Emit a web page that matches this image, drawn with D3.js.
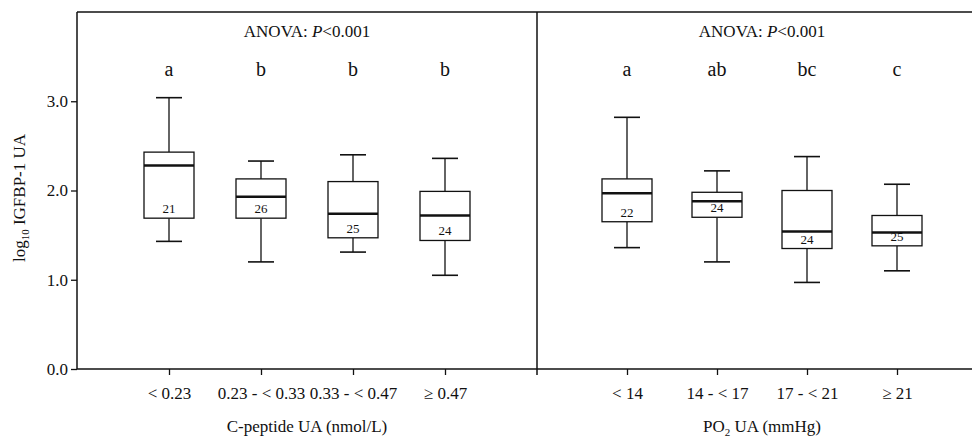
<!DOCTYPE html>
<html><head><meta charset="utf-8">
<script src="https://cdn.jsdelivr.net/npm/d3@7"></script>
<style>body{margin:0;background:#fff}svg{display:block;font-family:"Liberation Serif","Times New Roman",serif}</style>
</head><body><svg id="c" width="972" height="439"></svg>
<script>
const panelTitles = ["C-peptide UA (nmol/L)", "PO2 UA (mmHg)"];
const anovaText = ["P<0.001", "P<0.001"];
const cats1 = ["< 0.23", "0.23 - < 0.33", "0.33 - < 0.47", "\u2265 0.47"];
const cats2 = ["< 14", "14 - < 17", "17 - < 21", "\u2265 21"];
const letters1 = ["a", "b", "b", "b"];
const letters2 = ["a", "ab", "bc", "c"];
const n1 = [21, 26, 25, 24];
const n2 = [22, 24, 24, 25];
// [whiskerLow, q1, median, q3, whiskerHigh]
const stats1 = [[1.43,1.69,2.28,2.43,3.04],[1.20,1.69,1.93,2.13,2.33],[1.31,1.47,1.74,2.10,2.40],[1.05,1.44,1.72,1.99,2.36]];
const stats2 = [[1.36,1.65,1.97,2.13,2.82],[1.20,1.70,1.88,1.98,2.22],[0.97,1.35,1.54,2.00,2.38],[1.10,1.38,1.53,1.72,2.07]];
const yTicks = [0, 1, 2, 3];

const svg = d3.select("#c");
const plotTop = 12, plotBottom = 369;
const y = d3.scaleLinear().domain([0, 4]).range([plotBottom, plotTop]);
const panels = [
  {x0: 77, x1: 537, cats: cats1, letters: letters1, n: n1, stats: stats1, title: panelTitles[0], anova: anovaText[0]},
  {x0: 537, x1: 987, cats: cats2, letters: letters2, n: n2, stats: stats2, title: panelTitles[1], anova: anovaText[1]}
];
const ink = "#111";

// frame lines
svg.append("line").attr("x1",77).attr("x2",972).attr("y1",plotTop).attr("y2",plotTop).attr("stroke",ink).attr("stroke-width",1.5);
svg.append("line").attr("x1",77).attr("x2",77).attr("y1",plotTop).attr("y2",plotBottom).attr("stroke",ink).attr("stroke-width",1.5);
svg.append("line").attr("x1",537).attr("x2",537).attr("y1",plotTop).attr("y2",plotBottom+6).attr("stroke",ink).attr("stroke-width",1.5);

// y axis
const yAxis = d3.axisLeft(y).tickValues(yTicks).tickFormat(d3.format(".1f")).tickSize(6).tickSizeOuter(0);
const ya = svg.append("g").attr("transform","translate(77,0)").call(yAxis);
ya.select(".domain").remove();
ya.selectAll(".tick line").attr("stroke",ink).attr("stroke-width",1.3);
ya.selectAll(".tick text").attr("font-size",17).attr("fill",ink).attr("font-family","Liberation Serif").attr("x",-9);

// y title
const yt = svg.append("text").attr("transform","translate(25,198) rotate(-90)").attr("text-anchor","middle").attr("font-size",17).attr("fill",ink);
yt.append("tspan").text("log");
yt.append("tspan").text("10").attr("font-size",11).attr("dy",4);
yt.append("tspan").text(" IGFBP-1 UA").attr("dy",-4);

panels.forEach((p, pi) => {
  const x = d3.scaleLinear().domain([0, 5]).range([p.x0, p.x1]);
  const xAxis = d3.axisBottom(x).tickValues([1,2,3,4]).tickFormat((d) => p.cats[d-1]).tickSize(6).tickSizeOuter(0);
  const xa = svg.append("g").attr("transform",`translate(0,${plotBottom})`).call(xAxis);
  xa.select(".domain").attr("d", `M${p.x0},0H${Math.min(p.x1,972)}`).attr("stroke",ink).attr("stroke-width",1.5);
  xa.selectAll(".tick line").attr("stroke",ink).attr("stroke-width",1.3);
  xa.selectAll(".tick text").attr("font-size",17).attr("fill",ink).attr("font-family","Liberation Serif").attr("y",18);

  const cx = (p.x0 + p.x1) / 2;
  const an = svg.append("text").attr("x",cx).attr("y",37).attr("text-anchor","middle").attr("font-size",17).attr("fill",ink);
  an.append("tspan").text("ANOVA: ");
  an.append("tspan").text("P").attr("font-style","italic");
  an.append("tspan").text(p.anova.slice(1));

  const tt = svg.append("text").attr("x",cx).attr("y",432).attr("text-anchor","middle").attr("font-size",17).attr("fill",ink);
  if (pi === 1) {
    tt.append("tspan").text("PO");
    tt.append("tspan").text("2").attr("font-size",11).attr("dy",4);
    tt.append("tspan").text(" UA (mmHg)").attr("dy",-4);
  } else tt.text(p.title);

  const bw = 50, cw = 26;
  p.stats.forEach((s, i) => {
    const xc = x(i + 1);
    const g = svg.append("g");
    g.append("line").attr("x1",xc).attr("x2",xc).attr("y1",y(s[4])).attr("y2",y(s[3])).attr("stroke",ink).attr("stroke-width",1.3);
    g.append("line").attr("x1",xc).attr("x2",xc).attr("y1",y(s[1])).attr("y2",y(s[0])).attr("stroke",ink).attr("stroke-width",1.3);
    g.append("line").attr("x1",xc-cw/2).attr("x2",xc+cw/2).attr("y1",y(s[4])).attr("y2",y(s[4])).attr("stroke",ink).attr("stroke-width",1.6);
    g.append("line").attr("x1",xc-cw/2).attr("x2",xc+cw/2).attr("y1",y(s[0])).attr("y2",y(s[0])).attr("stroke",ink).attr("stroke-width",1.6);
    g.append("rect").attr("x",xc-bw/2).attr("width",bw).attr("y",y(s[3])).attr("height",y(s[1])-y(s[3])).attr("fill","#fff").attr("stroke",ink).attr("stroke-width",1.3);
    g.append("line").attr("x1",xc-bw/2).attr("x2",xc+bw/2).attr("y1",y(s[2])).attr("y2",y(s[2])).attr("stroke",ink).attr("stroke-width",2.4);
    g.append("text").attr("x",xc).attr("y",y(s[1])-5).attr("text-anchor","middle").attr("font-size",13).attr("fill",ink).text(p.n[i]);
    svg.append("text").attr("x",xc).attr("y",76).attr("text-anchor","middle").attr("font-size",20).attr("fill",ink).text(p.letters[i]);
  });
});
</script></body></html>
